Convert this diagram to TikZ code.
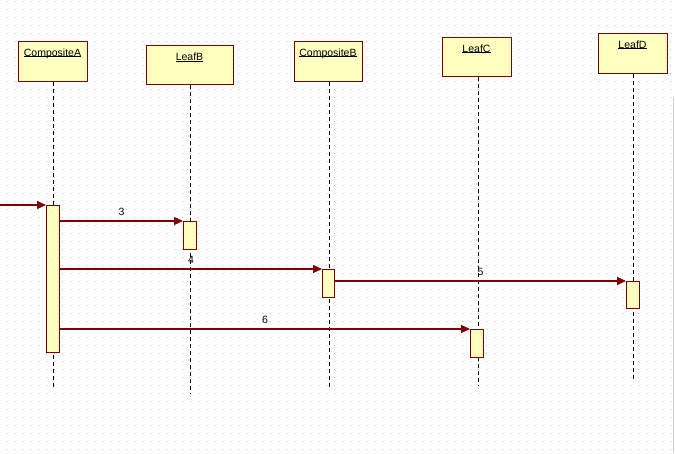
\documentclass[tikz,border=0pt]{standalone}
\usepackage{fontspec}
\setmainfont{Liberation Sans}
\usetikzlibrary{arrows.meta}
\definecolor{umlred}{RGB}{128,0,0}
\definecolor{umlfill}{RGB}{255,255,192}
\definecolor{griddot}{RGB}{190,190,190}
\newcommand\ulname[1]{\setbox0\hbox{#1}\rlap{\rule[-1.3pt]{\wd0}{0.9pt}}\box0}
\tikzset{
  objbox/.style={draw=umlred, fill=umlfill, line width=1.2pt, anchor=north west, inner sep=0pt},
  objname/.style={anchor=base, inner sep=0pt, font=\fontsize{10.5}{12}\selectfont, text=black},
  actbox/.style={draw=umlred, fill=umlfill, line width=1.1pt, anchor=north west, inner sep=0pt, minimum width=13pt},
  lifeline/.style={draw=black, line width=1pt, dash pattern=on 4pt off 3pt},
  msg/.style={draw=umlred, line width=1.1pt, -{Triangle[length=9pt,width=8pt]}},
  msglabel/.style={midway, yshift=9pt, inner sep=0pt, font=\fontsize{10.5}{12}\selectfont, text=black!85!umlred}
}
\begin{document}
\begin{tikzpicture}[x=1pt,y=-1pt]
\useasboundingbox (0,0) rectangle (675,453);
\fill[white] (0,0) rectangle (675,453);
% dotted grid
\foreach \j in {0,...,56}{
  \draw[griddot, line width=1pt, dash pattern=on 1pt off 7pt] (6,1.5+8*\j) -- (675,1.5+8*\j);
}
\draw[black!18, line width=1pt] (673.5,97) -- (673.5,453);
% objects
\node[objbox, minimum width=69pt, minimum height=40pt] (boxA) at (18,41) {};
\node[objbox, minimum width=87pt, minimum height=39pt] (boxB) at (146,45) {};
\node[objbox, minimum width=68pt, minimum height=40pt] (boxCB) at (294,41) {};
\node[objbox, minimum width=69pt, minimum height=39pt] (boxC) at (442,37) {};
\node[objbox, minimum width=69pt, minimum height=40pt] (boxD) at (598,33) {};
\node[objname] (nA) at (52.5,56) {\ulname{CompositeA}};
\node[objname] (nB) at (189.5,60.5) {\ulname{LeafB}};
\node[objname] (nCB) at (328,56) {\ulname{CompositeB}};
\node[objname] (nC) at (476.5,52) {\ulname{LeafC}};
\node[objname] (nD) at (632.5,48) {\ulname{LeafD}};
% lifeline ends
\coordinate (eA) at (53,390);
\coordinate (eB) at (190,394);
\coordinate (eCB) at (329,390);
\coordinate (eC) at (478,386);
\coordinate (eD) at (633,382);
\draw[lifeline] (boxA.south -| eA) -- (eA);
\draw[lifeline] (boxB.south -| eB) -- (eB);
\draw[lifeline] (boxCB.south -| eCB) -- (eCB);
\draw[lifeline] (boxC.south -| eC) -- (eC);
\draw[lifeline] (boxD.south -| eD) -- (eD);
% activations
\node[actbox, minimum height=147pt] (actA) at (46,205) {};
\node[actbox, minimum height=28pt] (actB) at (183,221) {};
\node[actbox, minimum width=12pt, minimum height=28pt] (actCB) at (322,269) {};
\node[actbox, minimum height=27pt] (actD) at (626,281) {};
\node[actbox, minimum height=28pt] (actC) at (470,329) {};
% messages
\coordinate (start) at (0,205);
\draw[msg] (start) -- (actA.north west);
\draw[msg] (actA.east |- actB.north) -- node[msglabel] (l3) {3} (actB.north west);
\draw[msg] (actA.east |- actCB.north) -- node[msglabel] (l4) {4} (actCB.north west);
\draw[msg] (actCB.east |- actD.north) -- node[msglabel] (l5) {5} (actD.north west);
\draw[msg] (actA.east |- actC.north) -- node[msglabel] (l6) {6} (actC.north west);
\end{tikzpicture}
\end{document}
